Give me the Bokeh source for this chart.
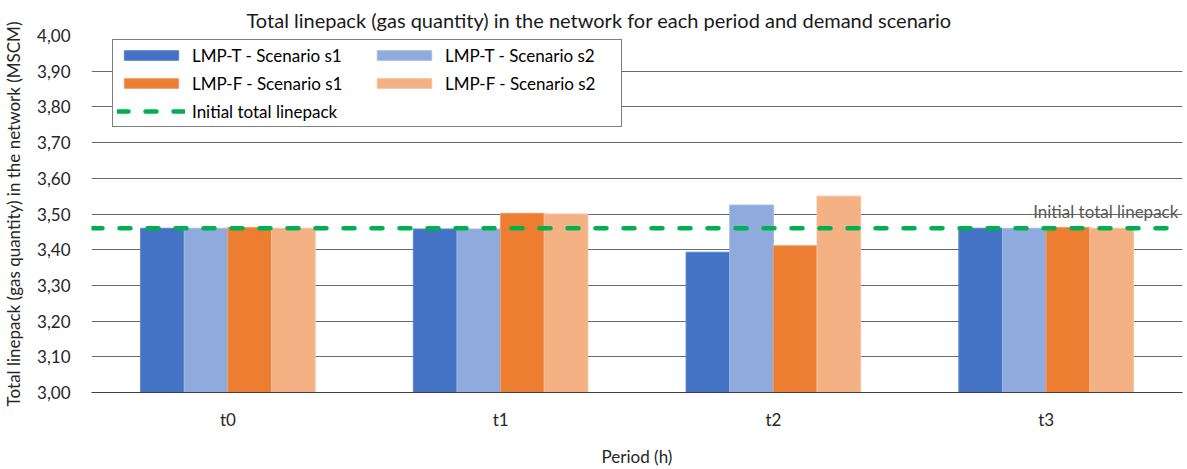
from bokeh.plotting import figure
from bokeh.models import (ColumnDataSource, FactorRange, Range1d, FixedTicker,
                          CustomJSTickFormatter, Legend, LegendItem)
from bokeh.transform import dodge
from bokeh.core.properties import value
from bokeh.embed import file_html
from bokeh.resources import INLINE

periods = ["t0", "t1", "t2", "t3"]
lmp_t_s1 = [3.46, 3.458, 3.393, 3.46]
lmp_t_s2 = [3.46, 3.458, 3.525, 3.46]
lmp_f_s1 = [3.462, 3.502, 3.411, 3.462]
lmp_f_s2 = [3.46, 3.50, 3.550, 3.46]
initial_linepack = 3.46
y_ticks = [3.0, 3.1, 3.2, 3.3, 3.4, 3.5, 3.6, 3.7, 3.8, 3.9, 4.0]

series_names = ["LMP-T - Scenario s1", "LMP-T - Scenario s2",
                "LMP-F - Scenario s1", "LMP-F - Scenario s2"]
series_cols = ["t_s1", "t_s2", "f_s1", "f_s2"]
series_colors = ["#4472C4", "#8FAADC", "#ED7D31", "#F4B183"]
series_edges = ["#5a84cc", "#a3bae3", "#f09a60", "#f6c09a"]
offsets = [-0.24, -0.08, 0.08, 0.24]

FONT = "Lato"
GREEN = "#00B050"

source = ColumnDataSource(dict(period=periods, t_s1=lmp_t_s1, t_s2=lmp_t_s2,
                               f_s1=lmp_f_s1, f_s2=lmp_f_s2))

p = figure(width=1187, height=469, x_range=FactorRange(*periods, range_padding=0),
           y_range=Range1d(3.0, 4.0), output_backend="svg", toolbar_location=None,
           min_border_left=86, min_border_right=5, min_border_top=35,
           min_border_bottom=68)
p.outline_line_color = None
p.background_fill_color = "white"
p.border_fill_color = "white"

p.title.text = "Total linepack (gas quantity) in the network for each period and demand scenario"
p.title.align = "left"
p.title.offset = 155
p.title.text_font = FONT
p.title.text_font_size = "20px"
p.title.text_font_style = "normal"
p.title.text_color = "#1a1a1a"
p.title.standoff = 7

renderers = []
for col, off, color, edge in zip(series_cols, offsets, series_colors, series_edges):
    r = p.vbar(x=dodge("period", off, range=p.x_range), top=col, bottom=3.0,
               width=0.16, source=source, fill_color=color, line_color=edge,
               line_width=1)
    renderers.append(r)

line_r = p.line(x=[0, len(periods)], y=[initial_linepack, initial_linepack],
                line_color=GREEN, line_width=4.5, line_dash="11 17",
                line_cap="round")

p.text(x=[periods[-1]], y=[initial_linepack], text=["Initial total linepack"],
       x_offset=-13, y_offset=-17, text_align="left", text_baseline="middle",
       text_font=value(FONT), text_font_size="17px", text_color="#595959")

# axes
p.yaxis.ticker = FixedTicker(ticks=y_ticks)
p.yaxis.formatter = CustomJSTickFormatter(code="return tick.toFixed(2).replace('.', ',');")
p.yaxis.axis_line_color = None
p.yaxis.major_tick_line_color = None
p.yaxis.minor_tick_line_color = None
p.yaxis.major_label_standoff = 15
p.yaxis.axis_label = "Total linepack (gas quantity) in the network (MSCM)"
p.yaxis.axis_label_standoff = 10

p.xaxis.axis_line_color = "#404040"
p.xaxis.axis_line_width = 1
p.xaxis.major_tick_line_color = None
p.xaxis.minor_tick_line_color = None
p.xaxis.major_label_standoff = 10
p.xaxis.axis_label = "Period (h)"
p.xaxis.axis_label_standoff = 13

for ax in (p.xaxis, p.yaxis):
    ax.major_label_text_font = FONT
    ax.major_label_text_font_size = "17px"
    ax.major_label_text_color = "#262626"
    ax.axis_label_text_font = FONT
    ax.axis_label_text_font_size = "17px"
    ax.axis_label_text_font_style = "normal"
    ax.axis_label_text_color = "#262626"

p.xgrid.grid_line_color = None
p.ygrid.grid_line_color = "#6a6a6a"
p.ygrid.grid_line_width = 1

# legend: column-major order -> first column T s1, F s1, initial; second T s2, F s2
order = [0, 2, None, 1, 3]
items = []
for i in order:
    if i is None:
        items.append(LegendItem(label="Initial total linepack", renderers=[line_r]))
    else:
        items.append(LegendItem(label=series_names[i], renderers=[renderers[i]]))
legend = Legend(items=items, ncols=2, location=(21, 265),
                glyph_width=68, glyph_height=12, label_height=22,
                label_width=172, label_standoff=7, spacing=6, padding=4,
                label_text_font=FONT, label_text_font_size="17px",
                label_text_color="black", border_line_color="black",
                border_line_width=1, background_fill_alpha=1,
                margin=0)
p.add_layout(legend, "center")

open("out.html", "w").write(file_html(p, INLINE))
